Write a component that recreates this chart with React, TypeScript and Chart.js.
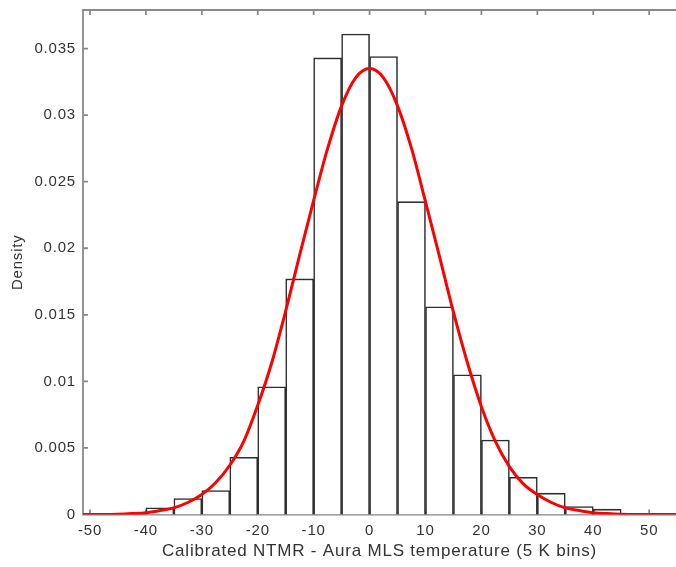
import React, { useEffect, useRef } from "react";
import { Chart, registerables } from "chart.js";

Chart.register(...registerables);

// Histogram bins (5 K wide), centre of each bin and its density
const BIN_CENTERS = [-37.5, -32.5, -27.5, -22.5, -17.5, -12.5, -7.5, -2.5, 2.5, 7.5, 12.5, 17.5, 22.5, 27.5, 32.5, 37.5, 42.5];
const BIN_DENSITY = [0.0005, 0.0012, 0.0018, 0.0043, 0.0096, 0.0177, 0.0343, 0.0361, 0.0344, 0.0235, 0.0156, 0.0105, 0.0056, 0.0028, 0.0016, 0.0006, 0.0004];

// Fitted curve
const FIT_X = [-52.5, -50, -47.5, -45, -42.5, -40, -37.5, -35, -32.5, -30, -27.5, -25, -22.5, -20, -17.5, -15, -12.5, -10, -7.5, -5, -2.5, 0, 2.5, 5, 7.5, 10, 12.5, 15, 17.5, 20, 22.5, 25, 27.5, 30, 32.5, 35, 37.5, 40, 42.5, 45, 47.5, 50, 52.5, 55];
const FIT_Y = [0, 0, 0, 0.00002, 0.00007, 0.00014, 0.0003, 0.0005, 0.0009, 0.0015, 0.0024, 0.0037, 0.0055, 0.0082, 0.0114, 0.0153, 0.0195, 0.0236, 0.0275, 0.0307, 0.0328, 0.0335, 0.0328, 0.0307, 0.0275, 0.0235, 0.0194, 0.0152, 0.0114, 0.0081, 0.0055, 0.0036, 0.0023, 0.0015, 0.0009, 0.0005, 0.0003, 0.00014, 0.00007, 0.00002, 0, 0, 0, 0];

const X_TICKS = [-50, -40, -30, -20, -10, 0, 10, 20, 30, 40, 50];
const Y_TICKS = [0, 0.005, 0.01, 0.015, 0.02, 0.025, 0.03, 0.035];

const X_TITLE = "Calibrated NTMR - Aura MLS temperature (5 K bins)";
const Y_TITLE = "Density";

const FONT = "'Liberation Sans', Arial, Helvetica, sans-serif";
const AXIS_COLOR = "#8a8a8a";
const TEXT_COLOR = "#333333";
const LETTER_SPACING = "0.8px";

const spacingPlugin = {
  id: "letterSpacing",
  beforeUpdate(chart: any) {
    chart.ctx.letterSpacing = LETTER_SPACING;
  },
  beforeLayout(chart: any) {
    chart.ctx.letterSpacing = LETTER_SPACING;
  },
  beforeDraw(chart: any) {
    chart.ctx.letterSpacing = LETTER_SPACING;
  },
};

const framePlugin = {
  id: "matlabFrame",
  beforeDatasetsDraw(chart: any) {
    const { ctx, chartArea, scales } = chart;
    const { left, right, top, bottom } = chartArea;
    ctx.save();
    ctx.strokeStyle = AXIS_COLOR;
    ctx.lineWidth = 1.8;
    ctx.beginPath();
    ctx.moveTo(right + 2, top);
    ctx.lineTo(left, top);
    ctx.lineTo(left, bottom);
    ctx.lineTo(right + 2, bottom);
    // inward ticks
    const tl = 5;
    X_TICKS.forEach((v) => {
      const px = scales.x.getPixelForValue(v);
      ctx.moveTo(px, bottom);
      ctx.lineTo(px, bottom - tl);
      ctx.moveTo(px, top);
      ctx.lineTo(px, top + tl);
    });
    Y_TICKS.forEach((v) => {
      const py = scales.y.getPixelForValue(v);
      ctx.moveTo(left, py);
      ctx.lineTo(left + tl, py);
    });
    ctx.stroke();
    ctx.restore();
  },
};

export default function App() {
  const ref = useRef<HTMLCanvasElement | null>(null);

  useEffect(() => {
    document.body.style.margin = "0";
    const canvas = ref.current;
    if (!canvas) return;
    const chart = new Chart(canvas, {
      type: "bar",
      data: {
        datasets: [
          {
            type: "line",
            data: FIT_X.map((x, i) => ({ x, y: FIT_Y[i] })),
            borderColor: "#ff0000",
            borderWidth: 3,
            pointRadius: 0,
            cubicInterpolationMode: "monotone",
            order: 0,
          } as any,
          {
            type: "bar",
            data: BIN_CENTERS.map((x, i) => ({ x, y: BIN_DENSITY[i] })),
            backgroundColor: "#ffffff",
            borderColor: "#2e2e2e",
            borderWidth: 1.6,
            barPercentage: 1,
            categoryPercentage: 1,
            borderSkipped: "start",
            grouped: false,
            order: 1,
          } as any,
        ],
      },
      options: {
        animation: false,
        responsive: false,
        maintainAspectRatio: false,
        layout: { padding: { top: 10, left: 0, right: 0, bottom: 0 } },
        plugins: {
          legend: { display: false },
          tooltip: { enabled: false },
        },
        scales: {
          x: {
            type: "linear",
            min: -51.25,
            max: 54.8,
            offset: false,
            grid: { display: false, drawTicks: false },
            border: { display: false },
            afterBuildTicks: (s: any) => {
              s.ticks = X_TICKS.map((v) => ({ value: v }));
            },
            afterFit: (s: any) => {
              s.height = 52.5;
              s.paddingLeft = 0;
              s.paddingRight = 0;
            },
            ticks: {
              color: TEXT_COLOR,
              font: { family: FONT, size: 15 },
              padding: 7,
              maxRotation: 0,
              autoSkip: false,
              callback: (v: any) => String(v),
            },
            title: {
              display: true,
              text: X_TITLE,
              color: TEXT_COLOR,
              font: { family: FONT, size: 17 },
              padding: { top: 0, bottom: 5 },
            },
          },
          y: {
            type: "linear",
            min: 0,
            max: 0.0379,
            grid: { display: false, drawTicks: false },
            border: { display: false },
            afterBuildTicks: (s: any) => {
              s.ticks = Y_TICKS.map((v) => ({ value: v }));
            },
            afterFit: (s: any) => {
              s.width = 83;
              s.paddingTop = 0;
              s.paddingBottom = 0;
            },
            ticks: {
              color: TEXT_COLOR,
              font: { family: FONT, size: 15 },
              padding: 7,
              autoSkip: false,
              callback: (v: any) => String(Number(Number(v).toFixed(4))),
            },
            title: {
              display: true,
              text: Y_TITLE,
              color: TEXT_COLOR,
              font: { family: FONT, size: 15 },
              padding: { top: 9, bottom: 0 },
            },
          },
        },
      } as any,
      plugins: [spacingPlugin, framePlugin],
    });
    return () => chart.destroy();
  }, []);

  return (
    <div style={{ width: 676, height: 567, background: "#fff" }}>
      <canvas ref={ref} width={676} height={567} style={{ display: "block" }} />
    </div>
  );
}
